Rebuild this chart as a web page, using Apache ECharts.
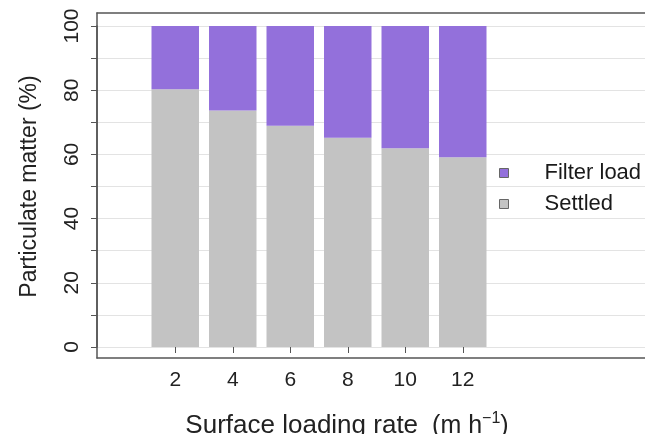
<!DOCTYPE html>
<html>
<head>
<meta charset="utf-8">
<script src="https://cdn.jsdelivr.net/npm/echarts@6/dist/echarts.min.js"></script>
<style>
  html, body { margin: 0; padding: 0; background: #fff; }
  #chart { width: 645px; height: 434px; }
</style>
</head>
<body>
<div id="chart"></div>
<script>
var rates = ['2', '4', '6', '8', '10', '12'];
var settled = [80.3, 73.7, 68.9, 65.2, 61.9, 59.1];
var filterLoad = [19.7, 26.3, 31.1, 34.8, 38.1, 40.9];

var font = 'Liberation Sans, Arial, sans-serif';
var lineColor = '#555';
var hidden = { axisLine: { show: false }, axisTick: { show: false }, axisLabel: { show: false }, splitLine: { show: false } };

var chart = echarts.init(document.getElementById('chart'));
chart.setOption({
    backgroundColor: '#fff',
    animation: false,
    textStyle: { fontFamily: font },
    legend: {
        orient: 'vertical',
        left: 494,
        top: 157,
        icon: 'rect',
        itemWidth: 9,
        itemHeight: 9,
        itemGap: 9,
        data: ['Filter load', 'Settled'],
        itemStyle: { borderColor: '#666', borderWidth: 1 },
        formatter: function (n) { return '{t|' + n + '}'; },
        textStyle: {
            rich: { t: { fontSize: 22, color: '#1a1a1a', padding: [0, 0, 0, 31], lineHeight: 22, fontFamily: font } }
        }
    },
    grid: [
        // y scale + gridlines
        { left: 97, right: 0, top: 26, bottom: 87, outerBoundsMode: 'none' },
        // frame
        { left: 97, right: 0, top: 13, bottom: 76, outerBoundsMode: 'none' },
        // bars
        { left: 146.5, right: 153.5, top: 26, bottom: 87, outerBoundsMode: 'none' }
    ],
    xAxis: [
        Object.assign({ type: 'value', gridIndex: 0, min: 0, max: 1 }, hidden),
        {
            type: 'value', gridIndex: 1, position: 'bottom', min: 0, max: 1,
            axisLine: { show: true, lineStyle: { color: lineColor, width: 1.5 } },
            axisTick: { show: false }, axisLabel: { show: false }, splitLine: { show: false }
        },
        {
            type: 'value', gridIndex: 1, position: 'top', min: 0, max: 1,
            axisLine: { show: true, lineStyle: { color: lineColor, width: 1.5 } },
            axisTick: { show: false }, axisLabel: { show: false }, splitLine: { show: false }
        },
        {
            type: 'category', gridIndex: 2, data: rates,
            offset: 11,
            axisLine: { show: false },
            axisTick: { show: true, alignWithLabel: true, length: 6, lineStyle: { color: lineColor } },
            axisLabel: { fontSize: 21, color: '#222', margin: 12 },
            splitLine: { show: false },
            name: '{a|Surface loading rate}{p|(m h}{s|\u22121}{b|)}',
            nameLocation: 'middle',
            nameGap: 53,
            nameTextStyle: {
                padding: [0, 0, 0, 56],
                rich: {
                    a: { fontSize: 26, color: '#222', fontFamily: font },
                    p: { fontSize: 25, color: '#222', fontFamily: font, padding: [0, 0, 0, 14] },
                    b: { fontSize: 25, color: '#222', fontFamily: font },
                    s: { fontSize: 16, color: '#222', fontFamily: font, padding: [0, 0, 14, 0] }
                }
            }
        }
    ],
    yAxis: [
        {
            type: 'value', gridIndex: 0,
            min: 0, max: 100, interval: 20,
            axisLine: { show: true, lineStyle: { color: lineColor, width: 1.5 } },
            axisTick: { show: true, length: 6, lineStyle: { color: lineColor } },
            minorTick: { show: true, splitNumber: 2, length: 6, lineStyle: { color: lineColor } },
            splitLine: { show: true, lineStyle: { color: '#e3e3e3', width: 1 } },
            minorSplitLine: { show: true, lineStyle: { color: '#e3e3e3', width: 1 } },
            axisLabel: { rotate: 90, fontSize: 21, color: '#222', margin: 14 },
            name: 'Particulate matter (%)',
            nameLocation: 'middle',
            nameRotate: 90,
            nameGap: 56,
            nameTextStyle: { fontSize: 23, color: '#222' }
        },
        {
            type: 'value', gridIndex: 1, min: 0, max: 1,
            axisLine: { show: true, lineStyle: { color: lineColor, width: 1.5 } },
            axisTick: { show: false }, axisLabel: { show: false }, splitLine: { show: false }
        },
        Object.assign({ type: 'value', gridIndex: 2, min: 0, max: 100 }, hidden)
    ],
    series: [
        {
            name: 'Settled', type: 'bar', stack: 'pm',
            xAxisIndex: 3, yAxisIndex: 2,
            barWidth: 47.5,
            itemStyle: { color: '#c3c3c3' },
            data: settled
        },
        {
            name: 'Filter load', type: 'bar', stack: 'pm',
            xAxisIndex: 3, yAxisIndex: 2,
            barWidth: 47.5,
            itemStyle: { color: '#9370db' },
            data: filterLoad
        }
    ]
});
</script>
</body>
</html>
